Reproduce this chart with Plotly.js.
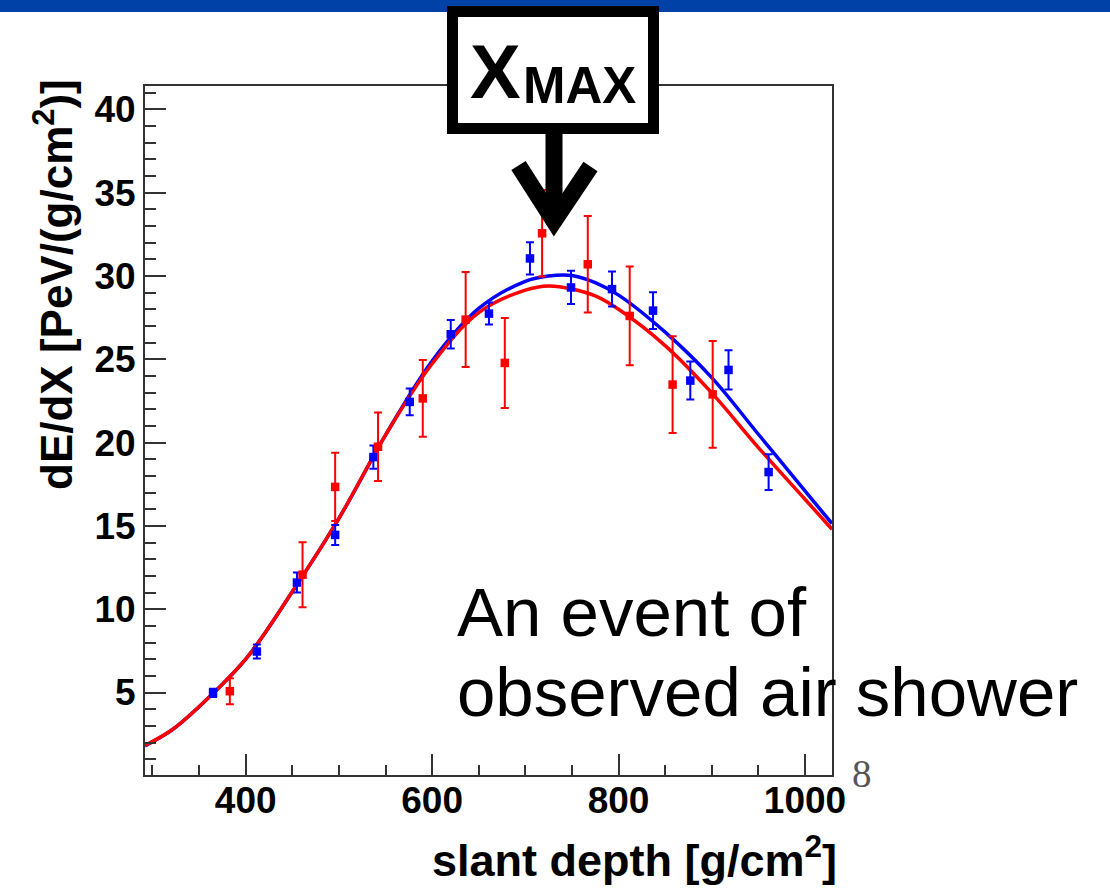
<!DOCTYPE html>
<html>
<head>
<meta charset="utf-8">
<script src="https://cdn.plot.ly/plotly-3.0.1.min.js"></script>
<style>
html,body{margin:0;padding:0;background:#fff;}
#chart{width:1110px;height:890px;}
</style>
</head>
<body>
<div id="chart"></div>
<script>
// ---- data ----
const blueDepth = [365, 412, 455, 496, 537, 576, 620, 661, 705, 749, 793, 837, 877, 918, 961];
const blueDEdX  = [4.98, 7.46, 11.6, 14.46, 19.13, 22.44, 26.5, 27.74, 31.05, 29.31, 29.21, 27.92, 23.72, 24.36, 18.23];
const blueErr   = [0.25, 0.42, 0.6, 0.6, 0.7, 0.8, 0.85, 0.66, 0.97, 1.0, 1.05, 1.1, 1.14, 1.18, 1.07];

const redDepth = [383, 461, 496, 542, 590, 636, 678, 718, 767, 812, 858, 901];
const redDEdX  = [5.08, 12.07, 17.34, 19.75, 22.65, 27.38, 24.78, 32.56, 30.7, 27.6, 23.48, 22.89];
const redErr   = [0.78, 1.95, 2.05, 2.05, 2.3, 2.85, 2.7, 2.6, 2.9, 2.96, 2.9, 3.2];

const fitDepth = [292, 320, 350, 400, 450, 500, 550, 600, 650, 700, 725, 750, 775, 800, 850, 900, 950, 1000, 1029];
const blueFit  = [1.8, 2.72, 4.15, 7.0, 11.05, 15.45, 20.45, 24.9, 28.05, 29.68, 30.0, 30.03, 29.6, 28.85, 26.63, 23.9, 20.5, 17.1, 15.14];
const redFit   = [1.83, 2.72, 4.15, 7.0, 11.05, 15.45, 20.45, 24.73, 27.8, 29.15, 29.4, 29.22, 28.8, 28.0, 25.82, 22.98, 19.7, 16.6, 14.8];

const xTickVals = [400, 600, 800, 1000];
const xTickText = ['400', '600', '800', '1000'];
const yTickVals = [5, 10, 15, 20, 25, 30, 35, 40];
const yTickText = ['5', '10', '15', '20', '25', '30', '35', '40'];

const xTitle = 'slant depth [g/cm<sup>2</sup>]';
const yTitle = 'dE/dX [PeV/(g/cm<sup>2</sup>)]';
const noteLine1 = 'An event of';
const noteLine2 = 'observed air shower';
const boxMain = 'X';
const boxSub = 'MAX';
const pageNo = '8';

// ---- pixel -> paper helpers (plot area 145..832 x 86..775) ----
const L = 145, R = 832, T = 86, B = 775;
const PX = v => (v - L) / (R - L);
const PY = v => (B - v) / (B - T);

const SANS = 'Liberation Sans, Arial, Helvetica, sans-serif';

const traces = [
  {x: fitDepth, y: blueFit, type: 'scatter', mode: 'lines', line: {color: '#0000ff', width: 3.5, shape: 'spline'}, hoverinfo: 'skip'},
  {x: fitDepth, y: redFit, type: 'scatter', mode: 'lines', line: {color: '#ff0000', width: 3.5, shape: 'spline'}, hoverinfo: 'skip'},
  {x: blueDepth, y: blueDEdX, type: 'scatter', mode: 'markers',
   marker: {symbol: 'square', size: 8.5, color: '#0000ff'},
   error_y: {type: 'data', array: blueErr, visible: true, color: '#0000ff', thickness: 2, width: 4}},
  {x: redDepth, y: redDEdX, type: 'scatter', mode: 'markers',
   marker: {symbol: 'square', size: 8.5, color: '#ff0000'},
   error_y: {type: 'data', array: redErr, visible: true, color: '#ff0000', thickness: 2, width: 4}}
];

const axisCommon = {
  ticks: 'inside', ticklen: 21, tickwidth: 2, tickcolor: '#333',
  showline: true, linewidth: 2, linecolor: '#333', mirror: true,
  showgrid: false, zeroline: false,
  tickfont: {family: SANS, size: 37, weight: 'bold', color: '#000'},
  tickmode: 'array'
};

const layout = {
  width: 1110, height: 890,
  margin: {l: L, r: 1110 - R, t: T, b: 890 - B, pad: 0, autoexpand: false},
  paper_bgcolor: '#ffffff', plot_bgcolor: '#ffffff',
  showlegend: false,
  xaxis: Object.assign({}, axisCommon, {
    range: [292, 1029], tickvals: xTickVals, ticktext: xTickText, ticklabelstandoff: -8,
    minor: {dtick: 50, tick0: 0, ticks: 'inside', ticklen: 10, tickwidth: 2, tickcolor: '#333', showgrid: false}
  }),
  yaxis: Object.assign({}, axisCommon, {
    range: [0.05, 41.4], tickvals: yTickVals, ticktext: yTickText, ticklabelstandoff: 0,
    minor: {dtick: 1, tick0: 0, ticks: 'inside', ticklen: 11, tickwidth: 2, tickcolor: '#333', showgrid: false}
  }),
  shapes: [
    {type: 'rect', xref: 'paper', yref: 'paper', x0: PX(0), x1: PX(1110), y0: PY(12), y1: PY(0),
     fillcolor: '#0041a8', line: {width: 0}, layer: 'above'},
    {type: 'rect', xref: 'paper', yref: 'paper', x0: PX(452.5), x1: PX(653.5), y0: PY(128.5), y1: PY(11.5),
     fillcolor: '#ffffff', line: {color: '#000000', width: 11}, layer: 'above'},
    {type: 'line', xref: 'paper', yref: 'paper', x0: PX(554), x1: PX(554), y0: PY(133), y1: PY(215),
     line: {color: '#000000', width: 17}, layer: 'above'},
    {type: 'path', xref: 'paper', yref: 'paper',
     path: 'M ' + PX(518.5) + ',' + PY(165.5) + ' L ' + PX(554) + ',' + PY(221) + ' L ' + PX(590.5) + ',' + PY(166.5),
     line: {color: '#000000', width: 17}, layer: 'above'}
  ],
  annotations: [
    {xref: 'paper', yref: 'paper', x: PX(495), y: PY(71.5), xanchor: 'center', yanchor: 'middle', showarrow: false,
     text: boxMain, font: {family: SANS, size: 76, weight: 'bold', color: '#000'}},
    {xref: 'paper', yref: 'paper', x: PX(579), y: PY(85.5), xanchor: 'center', yanchor: 'middle', showarrow: false,
     text: boxSub, font: {family: SANS, size: 51, weight: 'bold', color: '#000'}},
    {xref: 'paper', yref: 'paper', x: PX(455), y: PY(612), xanchor: 'left', yanchor: 'middle', showarrow: false,
     text: noteLine1, font: {family: SANS, size: 69, color: '#000'}},
    {xref: 'paper', yref: 'paper', x: PX(455), y: PY(692), xanchor: 'left', yanchor: 'middle', showarrow: false,
     text: noteLine2, font: {family: SANS, size: 69, color: '#000'}},
    {xref: 'paper', yref: 'paper', x: PX(634), y: PY(857), xanchor: 'center', yanchor: 'middle', showarrow: false,
     text: xTitle, font: {family: SANS, size: 45, weight: 'bold', color: '#000'}},
    {xref: 'paper', yref: 'paper', x: PX(53), y: PY(285), xanchor: 'center', yanchor: 'middle', showarrow: false,
     textangle: -90, text: yTitle, font: {family: SANS, size: 44, weight: 'bold', color: '#000'}},
    {xref: 'paper', yref: 'paper', x: PX(862), y: PY(773), xanchor: 'center', yanchor: 'middle', showarrow: false,
     text: pageNo, font: {family: 'Liberation Serif, Times New Roman, serif', size: 39, color: '#555'}}
  ]
};

Plotly.newPlot('chart', traces, layout, {staticPlot: true, displayModeBar: false});
</script>
</body>
</html>
